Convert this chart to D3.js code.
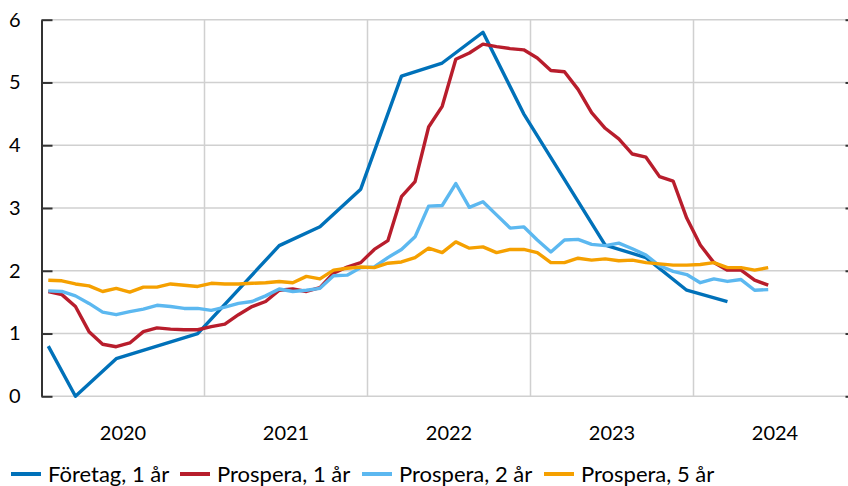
<!DOCTYPE html>
<html>
<head>
<meta charset="utf-8">
<script src="https://cdn.jsdelivr.net/npm/d3@7/dist/d3.min.js"></script>
<style>
  body { margin: 0; background: #fff; }
  text { font-family: Lato, "Open Sans", sans-serif; fill: #000; }
</style>
</head>
<body>
<svg width="848" height="486"></svg>
<script>
// Inflation expectations, monthly from Jan 2020 (index 0)
var years = [2020, 2021, 2022, 2023, 2024];
var yTicks = [0, 1, 2, 3, 4, 5, 6];

// Företag, 1 år - only observed points (month index, value)
var foretagMonths = [0, 2, 5, 11, 17, 20, 23, 26, 29, 32, 35, 41, 44, 47, 50];
var foretagValues = [0.80, 0.00, 0.60, 1.00, 2.40, 2.70, 3.30, 5.10, 5.31, 5.80, 4.50, 2.41, 2.21, 1.69, 1.51];

var prospera1 = [1.67, 1.62, 1.43, 1.03, 0.83, 0.79, 0.85, 1.03, 1.09, 1.07, 1.06, 1.06,
                 1.11, 1.15, 1.30, 1.43, 1.51, 1.69, 1.71, 1.67, 1.73, 1.96, 2.06, 2.13,
                 2.34, 2.48, 3.18, 3.42, 4.29, 4.62, 5.37, 5.47, 5.61, 5.57, 5.54, 5.52,
                 5.39, 5.19, 5.17, 4.89, 4.52, 4.27, 4.10, 3.86, 3.81, 3.50, 3.43, 2.84,
                 2.41, 2.13, 2.01, 2.01, 1.85, 1.77];

var prospera2 = [1.68, 1.67, 1.60, 1.48, 1.34, 1.30, 1.35, 1.39, 1.45, 1.43, 1.40, 1.40,
                 1.37, 1.42, 1.48, 1.51, 1.60, 1.71, 1.67, 1.69, 1.72, 1.92, 1.93, 2.05,
                 2.06, 2.21, 2.34, 2.54, 3.03, 3.04, 3.39, 3.01, 3.10, 2.89, 2.68, 2.70,
                 2.49, 2.30, 2.49, 2.50, 2.42, 2.40, 2.44, 2.35, 2.25, 2.08, 1.99, 1.94,
                 1.81, 1.87, 1.83, 1.86, 1.69, 1.70];

var prospera5 = [1.85, 1.84, 1.79, 1.76, 1.67, 1.72, 1.66, 1.74, 1.74, 1.79, 1.77, 1.75,
                 1.80, 1.79, 1.79, 1.80, 1.81, 1.83, 1.81, 1.91, 1.87, 2.01, 2.04, 2.06,
                 2.05, 2.12, 2.14, 2.21, 2.36, 2.29, 2.46, 2.36, 2.38, 2.29, 2.34, 2.34,
                 2.29, 2.13, 2.13, 2.20, 2.17, 2.19, 2.16, 2.17, 2.13, 2.11, 2.09, 2.09,
                 2.10, 2.13, 2.05, 2.05, 2.01, 2.05];

var seriesNames = ["Företag, 1 år", "Prospera, 1 år", "Prospera, 2 år", "Prospera, 5 år"];
var colors = ["#0071b9", "#b81d2c", "#5cb8f0", "#f5a000"];

function toPoints(months, values) {
    return values.map(function(v, i) { return { m: months ? months[i] : i, v: v }; });
}
var series = [
    toPoints(foretagMonths, foretagValues),
    toPoints(null, prospera1),
    toPoints(null, prospera2),
    toPoints(null, prospera5)
];

var svg = d3.select("svg");
var plotLeft = 41.5, plotRight = 856.5, plotTop = 19.7, plotBottom = 396.3;

// months since Jan 2020, points sit at the middle of each month
var x = d3.scaleLinear().domain([0, years.length * 12]).range([plotLeft, plotRight]);
var y = d3.scaleLinear().domain([0, 6]).range([plotBottom, plotTop]);

// horizontal gridlines
svg.append("g")
   .selectAll("line")
   .data(yTicks)
   .enter().append("line")
   .attr("x1", plotLeft).attr("x2", plotRight)
   .attr("y1", function(d) { return y(d); })
   .attr("y2", function(d) { return y(d); })
   .attr("stroke", "#d0d0d0")
   .attr("stroke-width", 1.5);

// vertical gridlines at year boundaries
svg.append("g")
   .selectAll("line")
   .data(years.slice(1))
   .enter().append("line")
   .attr("x1", function(d, i) { return x((i + 1) * 12); })
   .attr("x2", function(d, i) { return x((i + 1) * 12); })
   .attr("y1", plotTop).attr("y2", plotBottom)
   .attr("stroke", "#d0d0d0")
   .attr("stroke-width", 1.5);

// left axis with inward ticks
var yAxis = svg.append("g")
   .attr("transform", "translate(" + plotLeft + ",0)")
   .call(d3.axisLeft(y).tickValues(yTicks).tickFormat(d3.format("d"))
           .tickSizeInner(-11).tickSizeOuter(0).tickPadding(21));
yAxis.select(".domain").attr("stroke", "#333").attr("stroke-width", 2);
yAxis.selectAll(".tick line").attr("stroke", "#333").attr("stroke-width", 2);
yAxis.selectAll(".tick text").style("font-size", "20px").style("font-family", "Lato, sans-serif").attr("fill", "#000");

// right axis ticks (mostly outside the picture)
var yAxisR = svg.append("g")
   .attr("transform", "translate(" + plotRight + ",0)")
   .call(d3.axisRight(y).tickValues(yTicks).tickSizeInner(-11).tickSizeOuter(0).tickFormat(""));
yAxisR.select(".domain").attr("stroke", "#333").attr("stroke-width", 2);
yAxisR.selectAll(".tick line").attr("stroke", "#333").attr("stroke-width", 2);

// year labels
svg.append("g")
   .selectAll("text")
   .data(years)
   .enter().append("text")
   .attr("x", function(d, i) { return x(i * 12 + 6); })
   .attr("y", 440)
   .attr("text-anchor", "middle")
   .style("font-size", "20px")
   .text(function(d) { return d; });

// lines
var line = d3.line()
    .x(function(d) { return x(d.m + 0.5); })
    .y(function(d) { return y(d.v); });

svg.append("g")
   .selectAll("path")
   .data(series)
   .enter().append("path")
   .attr("fill", "none")
   .attr("stroke", function(d, i) { return colors[i]; })
   .attr("stroke-width", 3.4)
   .attr("stroke-linejoin", "round")
   .attr("d", line);

// legend
var legendX = [11, 180, 362, 544];
var legend = svg.append("g")
   .selectAll("g")
   .data(seriesNames)
   .enter().append("g")
   .attr("transform", function(d, i) { return "translate(" + legendX[i] + ",474)"; });
legend.append("line")
   .attr("x1", 0).attr("x2", 30)
   .attr("stroke", function(d, i) { return colors[i]; })
   .attr("stroke-width", 4);
legend.append("text")
   .attr("x", 37)
   .attr("y", 8)
   .style("font-size", "22px")
   .text(function(d) { return d; });
</script>
</body>
</html>
